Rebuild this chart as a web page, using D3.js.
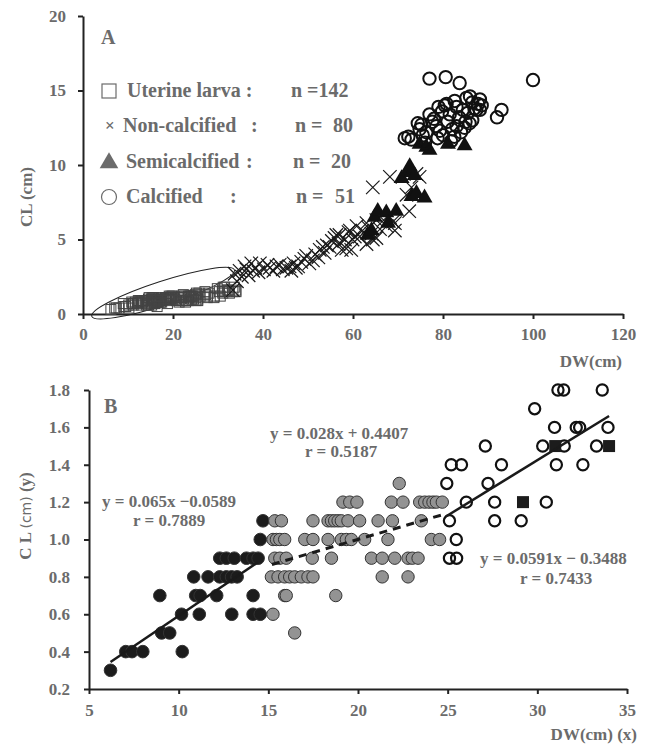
<!DOCTYPE html>
<html>
<head>
<meta charset="utf-8">
<script src="https://cdn.jsdelivr.net/npm/d3@7"></script>
<style>
  body { margin: 0; background: #fff; }
  text { font-family: "Liberation Serif", "Times New Roman", serif; font-weight: bold; fill: #6b6b6b; }
</style>
</head>
<body>
<div id="graph"></div>
<script>
var w = 646, h = 744

// ---------- panel B data (uterine larva), [DW, CL] ----------
var blackPts = [
  [6.2,0.3],[7.05,0.4],[7.4,0.4],[8.0,0.4],[10.2,0.4],[9.05,0.5],[9.5,0.5],
  [10.16,0.6],[11.15,0.6],[12.96,0.6],[14.15,0.6],[14.55,0.6],
  [8.95,0.7],[10.95,0.7],[11.2,0.7],[12.12,0.7],[14.15,0.7],
  [10.84,0.8],[11.64,0.8],[12.29,0.8],[12.66,0.8],[12.95,0.8],[13.26,0.8],
  [12.29,0.9],[12.66,0.9],[13.1,0.9],[13.78,0.9],[14.15,0.9],[14.43,0.9],
  [14.55,1.0],[14.7,1.1]
]
var grayPts = [
  [22.3,1.3],
  [19.16,1.2],[19.54,1.2],[19.94,1.2],[21.86,1.2],[22.51,1.2],[23.44,1.2],[23.72,1.2],[23.96,1.2],[24.18,1.2],[24.37,1.2],[24.7,1.2],
  [15.36,1.1],[15.73,1.1],[17.49,1.1],[18.33,1.1],[18.52,1.1],[18.7,1.1],[18.89,1.1],[19.07,1.1],[19.44,1.1],[20.09,1.1],[21.12,1.1],[21.92,1.1],[23.53,1.1],
  [15.26,1.0],[15.45,1.0],[15.64,1.0],[15.91,1.0],[17.03,1.0],[17.49,1.0],[18.33,1.0],[19.07,1.0],[19.35,1.0],[19.63,1.0],[20.37,1.0],[21.67,1.0],[24.09,1.0],[24.55,1.0],
  [15.36,0.9],[15.64,0.9],[16.0,0.9],[17.45,0.9],[18.52,0.9],[20.75,0.9],[21.35,0.9],[22.05,0.9],[22.79,0.9],[23.03,0.9],[23.35,0.9],
  [15.17,0.8],[15.54,0.8],[15.91,0.8],[16.19,0.8],[16.47,0.8],[16.84,0.8],[17.21,0.8],[17.49,0.8],[21.35,0.8],[22.79,0.8],
  [15.91,0.7],[16.0,0.7],[18.76,0.7],
  [15.26,0.6],
  [16.47,0.5]
]
var hollowPts = [
  [31.15,1.8],[31.47,1.8],[33.62,1.8],
  [29.85,1.7],
  [30.96,1.6],[32.17,1.6],[32.36,1.6],[33.94,1.6],
  [27.1,1.5],[30.3,1.5],[31.5,1.5],[33.3,1.5],
  [25.2,1.4],[25.77,1.4],[28.0,1.4],[31.06,1.4],[32.54,1.4],
  [24.95,1.3],[27.25,1.3],
  [26.04,1.2],[27.62,1.2],[30.5,1.2],
  [25.1,1.1],[27.62,1.1],[29.1,1.1],
  [25.48,1.0],
  [25.1,0.9],[25.5,0.9]
]
var squarePts = [[29.2,1.2],[31.0,1.5],[34.0,1.5]]

// regression lines: slope, intercept, DW range
var fits = [
  {a: 0.065,  b: -0.0589, from: 6.2,  to: 14.4, dashed: false},
  {a: 0.028,  b: 0.4407,  from: 15.2, to: 24.9, dashed: true},
  {a: 0.0591, b: -0.3488, from: 24.9, to: 34.0, dashed: false}
]
var fitLabels = [
  ["y = 0.065x \u22120.0589", "r  = 0.7889"],
  ["y = 0.028x + 0.4407", "r = 0.5187"],
  ["y = 0.0591x \u2212 0.3488", "r = 0.7433"]
]

// ---------- panel A data ----------
var nonCalcPts = [
  [33.3,1.6],[33.7,2.7],[34.2,2.2],[34.8,2.9],[35.3,2.5],[35.9,3.2],[36.3,3.0],[36.8,2.6],
  [37.4,3.4],[37.8,2.9],[38.3,3.1],[39.0,2.8],[39.3,3.4],[40.2,3.0],[41.0,3.3],[41.5,3.1],
  [42.3,2.9],[43.0,3.2],[43.7,3.3],[44.4,3.0],[45.2,3.1],[45.9,3.2],[46.3,2.9],[46.8,3.4],
  [47.3,3.1],[47.8,3.2],[48.5,3.5],[49.2,3.7],[49.6,3.9],[50.3,3.4],[51.1,3.6],[51.6,4.0],
  [52.3,3.8],[52.6,4.3],[53.3,4.5],[53.7,4.1],[54.2,4.6],[54.8,4.5],[55.3,4.9],[55.9,5.1],
  [56.3,5.3],[56.8,4.7],[57.0,5.3],[57.5,4.3],[58.2,5.0],[58.5,4.4],[59.0,5.5],[59.3,5.6],
  [59.6,4.3],[59.9,5.0],[60.4,5.2],[60.8,5.9],[61.5,5.2],[62.1,5.6],[63.0,6.1],[63.4,5.8],
  [63.0,4.7],[64.1,5.4],[64.4,5.0],[65.2,5.1],[65.2,6.3],[66.0,5.7],[66.8,6.3],[67.5,5.9],
  [68.2,6.5],[68.9,6.2],[69.3,5.6],[69.3,6.1],[64.4,8.5],[68.2,9.2],[73.0,8.5],[74.1,9.4],
  [74.8,9.2],[71.9,8.0],[72.5,6.9]
]
var semiPts = [
  [63.3,5.3],[64.1,5.6],[64.8,6.5],[65.5,6.9],[67.4,6.8],[67.8,6.1],[69.6,6.9],[70.8,9.1],
  [72.2,9.6],[73.0,9.5],[73.7,9.3],[73.0,7.9],[74.1,8.1],[75.9,7.8],[74.8,11.4],[76.3,11.2],
  [77.0,11.0],[81.1,11.4],[84.8,11.3],[72.6,9.9]
]
var calcPts = [
  [77.0,15.8],[80.6,15.9],[83.7,15.5],[100.0,15.7],
  [85.2,14.5],[86.5,14.2],[88.2,14.4],[87.8,14.1],[93.0,13.7],[92.0,13.2],
  [71.5,11.8],[72.3,11.9],[73.0,11.7],[74.4,12.8],[74.8,12.4],[75.5,12.0],[76.3,12.2],
  [77.0,13.4],[77.6,12.9],[78.0,13.1],[78.5,12.6],[79.3,12.3],[79.8,13.6],[80.4,14.0],
  [80.8,14.1],[81.0,12.9],[81.5,13.4],[82.0,12.4],[82.5,11.9],[83.0,13.9],[83.0,12.6],
  [83.6,13.2],[84.0,12.2],[84.4,13.7],[85.0,12.9],[85.5,13.5],[85.9,12.8],[86.5,13.0],
  [87.0,13.8],[87.4,13.7],[88.2,13.7],[88.6,14.0],[76.0,11.5],[78.8,11.8],[80.0,12.0],
  [81.8,11.6],[84.8,12.5],[86.0,14.6],[79.0,13.9],[82.6,14.3],[75.2,12.7]
]
var legendNames = ["Uterine larva :", "Non-calcified", "Semicalcified", "Calcified"]
var legendCounts = ["142", "80", "20", "51"]

var uterinePts = blackPts.concat(grayPts, hollowPts, squarePts)

var svg = d3.select('#graph')
  .append('svg')
  .attr("width", w)
  .attr("height", h)

function styleAxis(g) {
  g.selectAll(".domain").attr("stroke", "#222").attr("stroke-width", 2)
  g.selectAll(".tick line").attr("stroke", "#222").attr("stroke-width", 2)
  g.selectAll(".tick text").attr("font-size", 17).attr("fill", "#6b6b6b")
    .attr("font-family", '"Liberation Serif", serif').attr("font-weight", "bold")
}

// ================= panel A =================
var xA = d3.scaleLinear().domain([0, 120]).range([83, 623])
var yA = d3.scaleLinear().domain([0, 20]).range([314, 16])

var gA = svg.append("g")

gA.append("g").attr("transform", "translate(0,314)")
  .call(d3.axisBottom(xA).tickValues(d3.range(0, 121, 20)).tickSize(5).tickSizeOuter(0).tickPadding(9))
  .call(styleAxis)
gA.append("g").attr("transform", "translate(83,0)")
  .call(d3.axisLeft(yA).tickValues(d3.range(0, 21, 5)).tickSize(5).tickSizeOuter(0).tickPadding(12))
  .call(styleAxis)

// ellipse around uterine larvae
gA.append("ellipse")
  .attr("transform", "translate(" + xA(17.8) + "," + yA(1.4) + ") rotate(-18)")
  .attr("rx", 75).attr("ry", 12)
  .attr("fill", "none").attr("stroke", "#222").attr("stroke-width", 1)

gA.append("g").selectAll("rect")
  .data(uterinePts).enter().append("rect")
  .attr("x", d => xA(d[0]) - 5).attr("y", d => yA(d[1]) - 5)
  .attr("width", 10).attr("height", 10)
  .attr("fill", "none").attr("stroke", "#444").attr("stroke-width", 1)

var cross = d3.symbol().type(d3.symbolX).size(120)
gA.append("g").selectAll("path")
  .data(nonCalcPts).enter().append("path")
  .attr("d", cross)
  .attr("transform", d => "translate(" + xA(d[0]) + "," + yA(d[1]) + ")")
  .attr("fill", "none").attr("stroke", "#1a1a1a").attr("stroke-width", 1.2)

var tri = d3.symbol().type(d3.symbolTriangle).size(110)
gA.append("g").selectAll("path")
  .data(semiPts).enter().append("path")
  .attr("d", tri)
  .attr("transform", d => "translate(" + xA(d[0]) + "," + yA(d[1]) + ")")
  .attr("fill", "#111")

gA.append("g").selectAll("circle")
  .data(calcPts).enter().append("circle")
  .attr("cx", d => xA(d[0])).attr("cy", d => yA(d[1])).attr("r", 6.2)
  .attr("fill", "none").attr("stroke", "#111").attr("stroke-width", 2)

gA.append("text").attr("x", 101).attr("y", 44).attr("font-size", 20).text("A")

// legend
var legY = [97, 131.5, 168, 203]
var legNameX = [127, 123, 126, 126]
var legColonX = [null, 251, 246, 230]
var legNX = [291, 295, 293, 296]
var legNumX = [null, 333, 331, 335]
var leg = gA.append("g").attr("font-size", 20)
legendNames.forEach(function(name, i) {
  leg.append("text").attr("x", legNameX[i]).attr("y", legY[i]).text(name)
  if (legColonX[i] != null) leg.append("text").attr("x", legColonX[i]).attr("y", legY[i]).text(":")
  if (legNumX[i] == null) {
    leg.append("text").attr("x", legNX[i]).attr("y", legY[i]).text("n =" + legendCounts[i])
  } else {
    leg.append("text").attr("x", legNX[i]).attr("y", legY[i]).text("n =")
    leg.append("text").attr("x", legNumX[i]).attr("y", legY[i]).text(legendCounts[i])
  }
})
leg.append("rect").attr("x", 102).attr("y", 84).attr("width", 14).attr("height", 14)
  .attr("fill", "none").attr("stroke", "#6b6b6b").attr("stroke-width", 1.2)
leg.append("text").attr("x", 105).attr("y", 131).attr("font-size", 17).text("\u00d7")
leg.append("path").attr("d", d3.symbol().type(d3.symbolTriangle).size(150))
  .attr("transform", "translate(109,163)").attr("fill", "#6b6b6b")
leg.append("circle").attr("cx", 109).attr("cy", 197).attr("r", 7.5)
  .attr("fill", "none").attr("stroke", "#6b6b6b").attr("stroke-width", 1.2)

gA.append("text").attr("transform", "translate(32,197) rotate(-90)")
  .attr("text-anchor", "middle").attr("font-size", 17).text("CL (cm)")
gA.append("text").attr("x", 622).attr("y", 367)
  .attr("text-anchor", "end").attr("font-size", 17).text("DW(cm)")

// ================= panel B =================
var xB = d3.scaleLinear().domain([5, 35]).range([89, 627])
var yB = d3.scaleLinear().domain([0.2, 1.8]).range([689, 390])

var gB = svg.append("g")

gB.append("g").attr("transform", "translate(0,689)")
  .call(d3.axisBottom(xB).tickValues(d3.range(5, 36, 5)).tickSize(5).tickSizeOuter(0).tickPadding(10))
  .call(styleAxis)
gB.append("g").attr("transform", "translate(89,0)")
  .call(d3.axisLeft(yB).tickValues(d3.range(0.2, 1.81, 0.2)).tickFormat(d3.format(".1f"))
    .tickSize(5).tickSizeOuter(0).tickPadding(14))
  .call(styleAxis)

gB.append("g").selectAll("circle")
  .data(blackPts).enter().append("circle")
  .attr("cx", d => xB(d[0])).attr("cy", d => yB(d[1])).attr("r", 6.3)
  .attr("fill", "#1c1c1c").attr("stroke", "#333").attr("stroke-width", 1)

gB.append("g").selectAll("circle")
  .data(grayPts).enter().append("circle")
  .attr("cx", d => xB(d[0])).attr("cy", d => yB(d[1])).attr("r", 6.2)
  .attr("fill", "#939393").attr("stroke", "#333").attr("stroke-width", 1)

gB.append("g").selectAll("circle")
  .data(hollowPts).enter().append("circle")
  .attr("cx", d => xB(d[0])).attr("cy", d => yB(d[1])).attr("r", 5.6)
  .attr("fill", "none").attr("stroke", "#111").attr("stroke-width", 2.2)

gB.append("g").selectAll("rect")
  .data(squarePts).enter().append("rect")
  .attr("x", d => xB(d[0]) - 6).attr("y", d => yB(d[1]) - 6)
  .attr("width", 12).attr("height", 12).attr("fill", "#1c1c1c")

gB.append("g").selectAll("line")
  .data(fits).enter().append("line")
  .attr("x1", d => xB(d.from)).attr("y1", d => yB(d.a * d.from + d.b))
  .attr("x2", d => xB(d.to)).attr("y2", d => yB(d.a * d.to + d.b))
  .attr("stroke", "#1a1a1a").attr("stroke-width", d => d.dashed ? 3 : 2.5)
  .attr("stroke-dasharray", d => d.dashed ? "8,6" : null)

var labPos = [[102, 507, 133, 526], [270, 439, 305, 457], [480, 564, 520, 584]]
fitLabels.forEach(function(l, i) {
  var p = labPos[i]
  gB.append("text").attr("x", p[0]).attr("y", p[1]).attr("font-size", 17).text(l[0])
  gB.append("text").attr("x", p[2]).attr("y", p[3]).attr("font-size", 17).text(l[1])
})

gB.append("text").attr("x", 104).attr("y", 413).attr("font-size", 20).text("B")

var yl = gB.append("text").attr("transform", "translate(31,516) rotate(-90)")
  .attr("text-anchor", "middle").attr("font-size", 17)
yl.append("tspan").text("C  L ")
yl.append("tspan").attr("font-family", '"DejaVu Sans", sans-serif').attr("font-weight", "normal")
  .attr("font-size", 14).text("(cm)")
yl.append("tspan").text(" (y)")

gB.append("text").attr("x", 637).attr("y", 740)
  .attr("text-anchor", "end").attr("font-size", 17).text("DW(cm) (x)")
</script>
</body>
</html>
